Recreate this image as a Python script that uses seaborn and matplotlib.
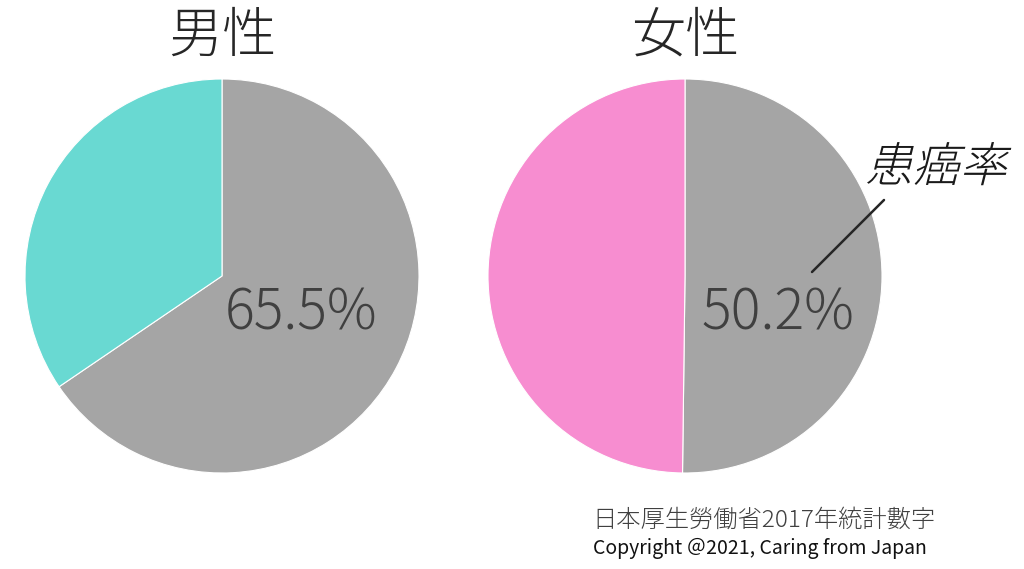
import matplotlib
matplotlib.use('Agg')
import matplotlib.pyplot as plt
import matplotlib.patheffects as pe
from matplotlib.transforms import Affine2D
import seaborn as sns

sns.set_theme(style="white")
plt.rcParams['font.family'] = ['Noto Sans CJK JP', 'DejaVu Sans']

# ==================== 数据 ====================
titles = ['男性', '女性']
rates = [65.5, 50.2]
rate_labels = ['65.5%', '50.2%']
other_colors = ['#69D9D2', '#F78DD0']
rate_color = '#A5A5A5'
annot_text = '患癌率'
source_text = '日本厚生勞働省2017年統計數字'
copyright_text = 'Copyright ＠2021, Caring from Japan'


class Oblique(pe.AbstractPathEffect):
    """伪斜体：字形路径先做错切再绘制"""
    def __init__(self, angle=14):
        super().__init__()
        self.angle = angle

    def draw_path(self, renderer, gc, tpath, affine, rgbFace=None):
        renderer.draw_path(gc, tpath, Affine2D().skew_deg(self.angle, 0) + affine, rgbFace)


fig = plt.figure(figsize=(10.24, 5.69), dpi=100)
W, H = 1024, 569
r = 197
centers = [(222, 276), (685, 276)]
label_pos = [(0.40, -0.19), (0.47, -0.19)]

axes = []
for i, (cx, cy) in enumerate(centers):
    ax = fig.add_axes([(cx - r) / W, (H - cy - r) / H, 2 * r / W, 2 * r / H])
    ax.pie([rates[i], 100 - rates[i]], colors=[rate_color, other_colors[i]],
           startangle=90, counterclock=False, radius=1,
           wedgeprops=dict(edgecolor='white', linewidth=0.8))
    ax.set_xlim(-1, 1)
    ax.set_ylim(-1, 1)
    ax.set_aspect('equal')
    ax.axis('off')
    ax.text(label_pos[i][0], label_pos[i][1], rate_labels[i], ha='center', va='center',
            fontsize=40, color='#404040', fontweight='light')
    fig.text(cx / W, 1 - 36 / H, titles[i], ha='center', va='center',
             fontsize=39, color='#262626', fontweight='light')
    axes.append(ax)

# 女性饼图的指示线和标注
ax = axes[1]
ax.plot([(812 - 685) / r, (884 - 685) / r], [(276 - 272) / r, (276 - 200) / r],
        color='#262626', linewidth=1.8, clip_on=False)
fig.text(936 / W, 1 - 168 / H, annot_text, ha='center', va='center',
         fontsize=34, color='#1a1a1a', fontweight='light', path_effects=[Oblique(14)])

fig.text(764 / W, 1 - 520 / H, source_text, ha='center', va='center',
         fontsize=17.5, color='#404040', fontweight='light')
fig.text(760 / W, 1 - 548 / H, copyright_text, ha='center', va='center',
         fontsize=14, color='#111111')

plt.savefig('out.png', dpi=100)
plt.close()
